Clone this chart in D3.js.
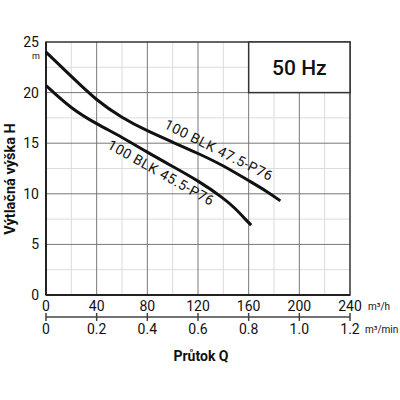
<html>
<head>
<script src="https://cdn.jsdelivr.net/npm/d3@7"></script>
<style>
  body { margin: 0; background: #fff; }
  text { font-family: Roboto, "Noto Sans", sans-serif; fill: #111; }
</style>
</head>
<body>
<script>
// Pump curves, flow Q in m3/h, head H in m
var flow475 = [0, 20, 40, 60, 80, 100, 120, 140, 160, 175, 185];
var head475 = [24.0, 21.6, 19.2, 17.5, 16.2, 15.1, 14.0, 12.8, 11.3, 10.2, 9.3];
var flow455 = [0, 20, 40, 60, 80, 100, 120, 140, 150, 158, 162];
var head455 = [20.7, 18.4, 16.9, 15.6, 14.1, 12.7, 11.3, 9.6, 8.5, 7.4, 6.9];
var curveNames = ["100 BLK 47.5-P76", "100 BLK 45.5-P76"];
var flowTicks = [0, 40, 80, 120, 160, 200, 240];
var minTicks = [0, 0.2, 0.4, 0.6, 0.8, 1.0, 1.2];
var headTicks = [0, 5, 10, 15, 20, 25];

var width = 400, height = 400;
var margin = {top: 42, right: 50, bottom: 105, left: 46};
var w = width - margin.left - margin.right;
var h = height - margin.top - margin.bottom;

var svg = d3.select("body").append("svg")
    .attr("width", width)
    .attr("height", height);

var g = svg.append("g")
    .attr("transform", "translate(" + margin.left + "," + margin.top + ")");

var x = d3.scaleLinear().domain([0, 240]).range([0, w]);
var x2 = d3.scaleLinear().domain([0, 1.2]).range([0, w]);
var y = d3.scaleLinear().domain([0, 25]).range([h, 0]);

// minor grid
g.append("g").selectAll("line")
    .data(d3.range(20, 240, 40))
    .join("line")
    .attr("x1", d => x(d)).attr("x2", d => x(d))
    .attr("y1", 0).attr("y2", h)
    .attr("stroke", "#dcdcdc").attr("stroke-width", 1);
g.append("g").selectAll("line")
    .data(d3.range(2.5, 25, 5))
    .join("line")
    .attr("y1", d => y(d)).attr("y2", d => y(d))
    .attr("x1", 0).attr("x2", w)
    .attr("stroke", "#dcdcdc").attr("stroke-width", 1);

// major grid
g.append("g").selectAll("line")
    .data(flowTicks.slice(1, -1))
    .join("line")
    .attr("x1", d => x(d)).attr("x2", d => x(d))
    .attr("y1", 0).attr("y2", h)
    .attr("stroke", "#777").attr("stroke-width", 1);
g.append("g").selectAll("line")
    .data(headTicks.slice(1, -1))
    .join("line")
    .attr("y1", d => y(d)).attr("y2", d => y(d))
    .attr("x1", 0).attr("x2", w)
    .attr("stroke", "#777").attr("stroke-width", 1);

// frame
g.append("rect")
    .attr("width", w).attr("height", h)
    .attr("fill", "none").attr("stroke", "#333").attr("stroke-width", 1.5);
g.append("line").attr("x1", 0).attr("x2", 0).attr("y1", 0).attr("y2", h)
    .attr("stroke", "#222").attr("stroke-width", 2);
g.append("line").attr("x1", 0).attr("x2", w).attr("y1", h).attr("y2", h)
    .attr("stroke", "#222").attr("stroke-width", 2);

// 50 Hz box
g.append("rect")
    .attr("x", x(160)).attr("y", y(25))
    .attr("width", x(240) - x(160)).attr("height", y(20) - y(25))
    .attr("fill", "#fff").attr("stroke", "#333").attr("stroke-width", 1.5);
g.append("text")
    .attr("x", (x(160) + x(240)) / 2).attr("y", (y(25) + y(20)) / 2 + 7.5)
    .attr("text-anchor", "middle")
    .attr("font-size", 21).attr("font-weight", 500)
    .text("50 Hz");

// curves
var line = d3.line()
    .x(d => x(d[0])).y(d => y(d[1]))
    .curve(d3.curveBasis);
var series = [d3.zip(flow475, head475), d3.zip(flow455, head455)];
g.append("g").selectAll("path")
    .data(series)
    .join("path")
    .attr("d", line)
    .attr("fill", "none").attr("stroke", "#111").attr("stroke-width", 3)
    .attr("stroke-linecap", "butt");

// curve labels placed along each curve (flow position, offset across the curve)
var labelAt = [[132, -12], [95, 11]];
series.forEach(function(s, i) {
    var q = labelAt[i][0];
    var hh = d3.scaleLinear().domain(s.map(d => d[0])).range(s.map(d => d[1]));
    var px = x(q), py = y(hh(q));
    var ang = Math.atan2(y(hh(q + 15)) - y(hh(q - 15)), x(q + 15) - x(q - 15)) * 180 / Math.PI;
    g.append("text")
        .attr("transform", "translate(" + px + "," + py + ") rotate(" + ang + ") translate(0," + labelAt[i][1] + ")")
        .attr("text-anchor", "middle")
        .attr("dominant-baseline", "central")
        .attr("font-size", 14).attr("font-weight", 400)
        .attr("textLength", 119).attr("lengthAdjust", "spacing")
        .text(curveNames[i]);
});

// y ticks
g.append("g").selectAll("text")
    .data(headTicks)
    .join("text")
    .attr("x", -7).attr("y", d => y(d) + 5)
    .attr("text-anchor", "end").attr("font-size", 14)
    .text(d => d);
g.append("text").attr("x", -10).attr("y", y(25) + 17)
    .attr("text-anchor", "middle").attr("font-size", 9).text("m");

// x ticks, m3/h
g.append("g").selectAll("text")
    .data(flowTicks)
    .join("text")
    .attr("x", d => x(d)).attr("y", h + 16)
    .attr("text-anchor", "middle").attr("font-size", 14)
    .text(d => d);
g.append("text").attr("x", w + 18).attr("y", h + 15)
    .attr("font-size", 10).text("m³/h");

// second scale, m3/min
var ax2 = g.append("g").attr("transform", "translate(0," + (h + 22) + ")");
ax2.append("line").attr("x1", 0).attr("x2", w)
    .attr("stroke", "#444").attr("stroke-width", 1.5);
ax2.selectAll(".tk")
    .data(minTicks)
    .join("line")
    .attr("x1", d => x2(d)).attr("x2", d => x2(d))
    .attr("y1", -4).attr("y2", 4)
    .attr("stroke", "#444").attr("stroke-width", 1.5);
ax2.selectAll("text")
    .data(minTicks)
    .join("text")
    .attr("x", d => x2(d)).attr("y", 17)
    .attr("text-anchor", "middle").attr("font-size", 14)
    .text(d => d == 0 ? "0" : d3.format(".1f")(d));
ax2.append("text").attr("x", w + 15).attr("y", 16)
    .attr("font-size", 10).text("m³/min");

// axis titles
svg.append("text")
    .attr("x", 201).attr("y", 361)
    .attr("text-anchor", "middle").attr("font-size", 14).attr("font-weight", 700)
    .text("Průtok Q");
svg.append("text")
    .attr("transform", "translate(15,179) rotate(-90)")
    .attr("text-anchor", "middle").attr("font-size", 14.5).attr("font-weight", 700)
    .text("Výtlačná výška H");
</script>
</body>
</html>
